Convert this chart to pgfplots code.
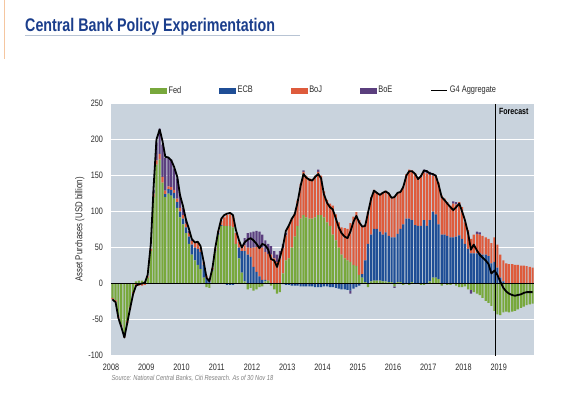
\documentclass[border=0pt]{standalone}
\usepackage{fontspec}
\setmainfont{Liberation Sans}[FakeStretch=0.78]
\usepackage{pgfplots}
\usepackage{pgfplotstable}
\pgfplotsset{compat=1.18}
\definecolor{fedc}{HTML}{78A83C}
\definecolor{ecbc}{HTML}{1F4E96}
\definecolor{bojc}{HTML}{DE5B3C}
\definecolor{boec}{HTML}{5B3F7E}
\definecolor{bgc}{HTML}{C9D3DD}
\definecolor{titlec}{HTML}{1B3E8C}
\definecolor{rulec}{HTML}{B8C4D4}
\definecolor{tickc}{HTML}{2B2B2B}
\definecolor{srcc}{HTML}{808080}
\definecolor{edgec}{HTML}{F5C6A0}

\pgfplotstableread{
x fed ecb boj boe g4
2008.04 -20 0 -2 0 -22
2008.13 -23 0 -3 0 -26
2008.21 -45 0 -3 0 -48
2008.29 -57 0 -3 0 -60
2008.38 -72 0 -3 0 -75
2008.46 -52 0 -3 0 -55
2008.54 -32 0 -3 0 -35
2008.63 -12 0 -2 0 -14
2008.71 3 0 -3 0 -3
2008.79 4 0 -3 0 -1
2008.88 4 0 -3 0 0
2008.96 3 0 -2 0 1
2009.04 8 0 2 0 12
2009.13 45 0 3 0 55
2009.21 120 0 5 5 135
2009.29 165 0 6 25 200
2009.38 172 0 8 35 214
2009.46 140 0 8 45 198
2009.54 120 4 5 45 176
2009.63 125 6 4 40 175
2009.71 122 8 4 38 171
2009.79 118 8 4 30 162
2009.88 105 8 5 28 148
2009.96 92 8 5 18 122
2010.04 82 8 5 10 108
2010.13 70 8 5 5 88
2010.21 55 10 5 3 76
2010.29 40 14 5 2 62
2010.38 32 18 6 1 57
2010.46 26 22 8 0 58
2010.54 20 24 6 0 52
2010.63 8 18 4 0 30
2010.71 -5 8 3 0 8
2010.79 -6 3 4 0 3
2010.88 18 1 3 0 22
2010.96 45 1 3 0 50
2011.04 68 2 3 0 72
2011.13 80 1 6 0 90
2011.21 80 0 12 0 95
2011.29 80 -2 15 0 97
2011.38 80 -2 16 0 98
2011.46 78 -2 16 0 95
2011.54 55 0 15 0 75
2011.63 35 15 8 0 60
2011.71 15 30 5 0 50
2011.79 3 42 8 10 57
2011.88 -8 40 10 20 61
2011.96 -6 37 12 22 63
2012.04 -10 23 27 22 60
2012.13 -8 16 35 22 55
2012.21 -5 10 42 20 49
2012.29 -4 5 45 18 55
2012.38 3 2 39 16 53
2012.46 4 0 37 14 47
2012.54 -3 0 40 12 34
2012.63 -8 0 35 10 32
2012.71 -14 0 30 10 23
2012.79 -12 0 35 10 36
2012.88 14 -1 35 6 52
2012.96 32 -2 35 3 73
2013.04 35 -2 45 0 80
2013.13 50 -3 40 0 90
2013.21 65 -3 32 0 96
2013.29 80 -3 35 0 112
2013.38 90 -4 48 0 136
2013.46 95 -4 60 2 152
2013.54 92 -4 58 0 147
2013.63 90 -4 56 0 144
2013.71 90 -4 55 0 143
2013.79 92 -5 58 0 148
2013.88 95 -5 60 3 152
2013.96 95 -5 55 0 146
2014.04 92 -4 36 0 124
2014.13 85 -4 31 0 112
2014.21 80 -5 31 0 106
2014.29 68 -5 40 0 103
2014.38 60 -6 36 0 90
2014.46 50 -7 35 0 78
2014.54 40 -8 38 0 70
2014.63 35 -8 42 0 65
2014.71 32 -9 44 0 63
2014.79 30 -10 54 -4 72
2014.88 26 -7 67 0 86
2014.96 24 -5 75 0 94
2015.04 12 -3 76 0 85
2015.13 8 5 67 0 79
2015.21 2 30 50 0 80
2015.29 -5 55 45 0 98
2015.38 3 65 52 0 118
2015.46 4 72 54 0 129
2015.54 4 72 51 0 126
2015.63 4 68 52 0 123
2015.71 3 65 59 0 126
2015.79 3 68 58 0 128
2015.88 2 64 60 0 125
2015.96 2 62 56 0 119
2016.04 -4 64 56 -2 120
2016.13 2 67 57 0 126
2016.21 2 74 52 0 127
2016.29 -2 82 53 0 134
2016.38 0 90 62 0 150
2016.46 -2 90 68 0 156
2016.54 2 86 69 0 156
2016.63 0 81 72 0 152
2016.71 0 80 66 0 145
2016.79 -2 80 68 2 149
2016.88 -2 88 66 4 157
2016.96 0 80 73 4 156
2017.04 3 85 63 4 153
2017.13 8 92 50 3 152
2017.21 8 88 54 0 150
2017.29 6 76 58 0 138
2017.38 -3 68 54 0 120
2017.46 0 68 50 0 116
2017.54 -2 66 47 0 111
2017.63 -2 64 44 0 106
2017.71 0 64 47 3 102
2017.79 -3 65 45 3 106
2017.88 -5 67 46 0 111
2017.96 -5 62 44 0 100
2018.04 -4 55 30 0 88
2018.13 -8 48 26 0 70
2018.21 -9 42 20 -5 47
2018.29 -12 42 26 0 54
2018.38 -14 42 27 3 46
2018.46 -16 42 26 3 40
2018.54 -20 40 26 0 36
2018.63 -24 40 24 0 32
2018.71 -27 38 24 0 27
2018.79 -31 28 28 0 14
2018.88 -38 30 34 0 18
2018.96 -43 22 32 0 12
2019.04 -44 8 32 0 3
2019.13 -40 3 29 0 -6
2019.21 -39 0 28 0 -11
2019.29 -40 0 27 0 -14
2019.38 -39 0 27 0 -16
2019.46 -38 0 26 0 -17
2019.54 -36 0 26 0 -16
2019.63 -34 0 25 0 -15
2019.71 -32 0 25 0 -13
2019.79 -30 0 24 0 -12
2019.88 -29 0 23 0 -12
2019.96 -28 0 22 0 -12
}\cbdata

\pgfplotsset{
  cbgeom/.style={
    at={(111bp,39bp)}, anchor=south west,
    scale only axis, width=423bp, height=252bp,
    xmin=2008, xmax=2020, ymin=-100, ymax=250,
    enlargelimits=false, clip=true,
  },
}

\begin{document}
\begin{tikzpicture}[x=1bp,y=1bp]
\fill[white] (0,0) rectangle (561,394);
\draw[edgec, line width=1bp] (4,394) -- (4,336);
\node[anchor=base west, inner sep=0, text=titlec, font=\bfseries\fontsize{18.3bp}{21bp}\selectfont] at (25,363.5) {Central Bank Policy Experimentation};
\draw[rulec, line width=1bp] (25,359.5) -- (300,359.5);

% axis 1: background, grid, ticks, legend, positive stacks
\begin{axis}[
  cbgeom,
  axis background/.style={fill=bgc},
  axis line style={draw=none},
  major tick length=0pt,
  xtick={2008,...,2019},
  ytick={-100,-50,...,250},
  ymajorgrids, grid style={white, line width=0.9bp},
  /pgf/number format/assume math mode=true,
  tick label style={font=\fontsize{9.3bp}{10bp}\selectfont, text=tickc},
  x tick label style={/pgf/number format/1000 sep={}, yshift=-4.5bp},
  y tick label style={xshift=-4.5bp},
  ylabel={Asset Purchases (USD billion)},
  ylabel style={at={(axis description cs:-0.0735,0.5)}, anchor=center, font=\fontsize{10bp}{12bp}\selectfont, text=tickc},
  ybar stacked, bar width=0.062,
  legend columns=5,
  legend cell align=left,
  legend style={at={(0.092,1.052)}, anchor=west, draw=none, fill=none, inner sep=0pt,
    font=\fontsize{9.5bp}{11bp}\selectfont, text=tickc,
    /tikz/every even column/.append style={column sep=36bp}},
]
\addlegendimage{legend image code/.code={\fill[fedc] (0bp,-2.5bp) rectangle (16bp,2.5bp);}}
\addlegendentry{Fed}
\addlegendimage{legend image code/.code={\fill[ecbc] (0bp,-2.5bp) rectangle (16bp,2.5bp);}}
\addlegendentry{ECB}
\addlegendimage{legend image code/.code={\fill[bojc] (0bp,-2.5bp) rectangle (16bp,2.5bp);}}
\addlegendentry{BoJ}
\addlegendimage{legend image code/.code={\fill[boec] (0bp,-2.5bp) rectangle (16bp,2.5bp);}}
\addlegendentry{BoE}
\addlegendimage{legend image code/.code={\draw[black, line width=1.5bp] (0bp,0bp) -- (16bp,0bp);}}
\addlegendentry{G4 Aggregate}
\addplot[fill=fedc, draw=none, forget plot] table[x=x, y expr={max(\thisrow{fed},0)}] {\cbdata};
\addplot[fill=ecbc, draw=none, forget plot] table[x=x, y expr={max(\thisrow{ecb},0)}] {\cbdata};
\addplot[fill=bojc, draw=none, forget plot] table[x=x, y expr={max(\thisrow{boj},0)}] {\cbdata};
\addplot[fill=boec, draw=none, forget plot] table[x=x, y expr={max(\thisrow{boe},0)}] {\cbdata};
\end{axis}

% axis 2: negative stacks
\begin{axis}[cbgeom, hide axis, ybar stacked, bar width=0.062]
\addplot[fill=fedc, draw=none] table[x=x, y expr={min(\thisrow{fed},0)}] {\cbdata};
\addplot[fill=ecbc, draw=none] table[x=x, y expr={min(\thisrow{ecb},0)}] {\cbdata};
\addplot[fill=bojc, draw=none] table[x=x, y expr={min(\thisrow{boj},0)}] {\cbdata};
\addplot[fill=boec, draw=none] table[x=x, y expr={min(\thisrow{boe},0)}] {\cbdata};
\end{axis}

% axis 3: zero line, aggregate line, forecast marker
\begin{axis}[cbgeom, hide axis]
\draw[black, line width=1.3bp] (axis cs:2008,0) -- (axis cs:2020,0);
\addplot[black, line width=1.8bp, line join=round, no marks] table[x=x, y=g4] {\cbdata};
\draw[black, line width=1bp] (axis cs:2018.92,-100) -- (axis cs:2018.92,250);
\node[anchor=north west, inner sep=0pt, font=\bfseries\fontsize{9bp}{10bp}\selectfont, xshift=3bp, yshift=-4.7bp] at (axis cs:2018.92,250) {Forecast};
\end{axis}

\node[anchor=base west, inner sep=0, text=srcc, font=\itshape\fontsize{7.3bp}{9bp}\selectfont] at (111.5,14) {Source: National Central Banks, Citi Research. As of 30 Nov 18};
\end{tikzpicture}
\end{document}
